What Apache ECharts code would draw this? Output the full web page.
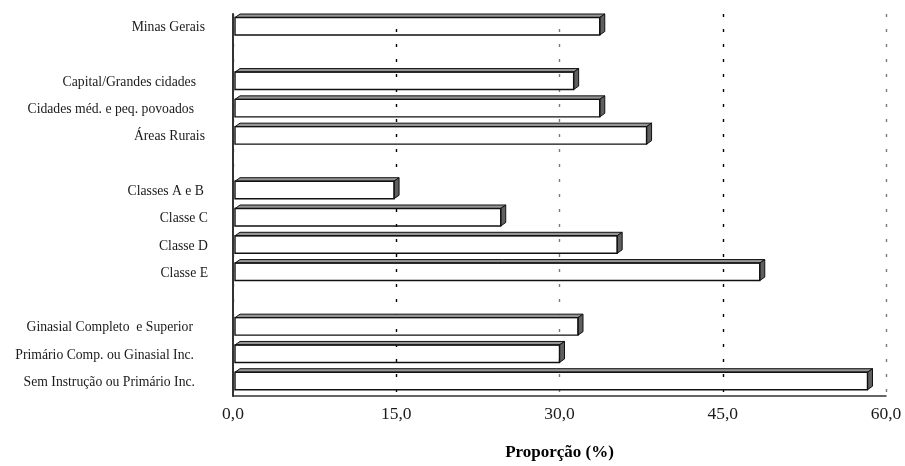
<!DOCTYPE html>
<html>
<head>
<meta charset="utf-8">
<script src="https://cdn.jsdelivr.net/npm/echarts@6/dist/echarts.min.js"></script>
<style>
html,body{margin:0;padding:0;background:#fff;}
#chart{width:905px;height:466px;}
</style>
</head>
<body>
<div id="chart"></div>
<script>
// ---- data ----
const categories = [
  'Minas Gerais',
  ' ',
  'Capital/Grandes cidades',
  'Cidades méd. e peq. povoados',
  'Áreas Rurais',
  '  ',
  'Classes A e B',
  'Classe C',
  'Classe D',
  'Classe E',
  '   ',
  'Ginasial Completo  e Superior',
  'Primário Comp. ou Ginasial Inc.',
  'Sem Instrução ou Primário Inc.'
];
const values = [33.7, null, 31.3, 33.7, 38.0, null, 14.8, 24.6, 35.3, 48.4, null, 31.7, 30.0, 58.3];
const xTicks = { min: 0, max: 60, interval: 15 };
const axisTitle = 'Proporção (%)';

// ---- layout / style ----
const labelPad = {
  'Minas Gerais': 3,
  'Capital/Grandes cidades': 12,
  'Cidades méd. e peq. povoados': 14,
  'Áreas Rurais': 3,
  'Classes A e B': 4,
  'Classe C': 0,
  'Classe D': 0,
  'Classe E': 0,
  'Ginasial Completo  e Superior': 15,
  'Primário Comp. ou Ginasial Inc.': 14,
  'Sem Instrução ou Primário Inc.': 13
};
const serif = '"Liberation Serif", "Times New Roman", serif';

const chart = echarts.init(document.getElementById('chart'), null, { renderer: 'canvas' });

const seriesData = values.map((v, i) => [v, i]).filter(d => d[0] !== null);

function renderItem(params, api) {
  const v = api.value(0);
  const idx = api.value(1);
  const s = api.coord([0, idx]);
  const e = api.coord([v, idx]);
  const band = api.size([0, 1])[1];
  const bandTop = s[1] - band / 2;
  const x0 = s[0] + 2;
  const x1 = e[0];
  const fy0 = bandTop + 3.5;
  const fy1 = fy0 + 17.5;
  const dx = 5, dy = 3.5;
  return {
    type: 'group',
    children: [
      {
        type: 'polygon',
        shape: { points: [[x0, fy0], [x0 + dx, fy0 - dy], [x1 + dx, fy0 - dy], [x1, fy0]] },
        style: { fill: '#959595', stroke: '#111', lineWidth: 1 }
      },
      {
        type: 'polygon',
        shape: { points: [[x1, fy0], [x1 + dx, fy0 - dy], [x1 + dx, fy1 - dy], [x1, fy1]] },
        style: { fill: '#5f5f5f', stroke: '#111', lineWidth: 1 }
      },
      {
        type: 'rect',
        shape: { x: x0, y: fy0, width: x1 - x0, height: fy1 - fy0 },
        style: { fill: 'rgba(255,255,255,0)', stroke: '#111', lineWidth: 1.4 }
      }
    ]
  };
}

const rich = {};
Object.keys(labelPad).forEach((k, i) => {
  rich['p' + i] = {
    fontFamily: serif, fontSize: 13.7, color: '#1a1a1a',
    padding: [0, labelPad[k], 0, 0]
  };
});
const padKeys = Object.keys(labelPad);

chart.setOption({
  backgroundColor: '#fff',
  animation: false,
  grid: { left: 233, right: 19, top: 14, bottom: 70, containLabel: false },
  xAxis: {
    type: 'value',
    min: xTicks.min, max: xTicks.max, interval: xTicks.interval,
    name: axisTitle,
    nameLocation: 'middle',
    nameGap: 48,
    nameTextStyle: { fontFamily: serif, fontSize: 17, fontWeight: 'bold', color: '#000' },
    axisLine: { show: true, lineStyle: { color: '#333', width: 1.5 } },
    axisTick: { show: false },
    axisLabel: {
      margin: 9,
      fontFamily: serif, fontSize: 17.5, color: '#1a1a1a',
      formatter: v => v.toFixed(1).replace('.', ',')
    },
    splitLine: {
      show: true,
      lineStyle: { color: ['#7a7a7a', '#000'], width: 1.4, type: [3, 12] }
    }
  },
  yAxis: {
    type: 'category',
    inverse: true,
    data: categories,
    axisLine: { show: true, lineStyle: { color: '#333', width: 2 } },
    axisTick: { show: false },
    splitLine: { show: false },
    axisLabel: {
      margin: 25,
      interval: 0,
      fontFamily: serif, fontSize: 13.7, color: '#1a1a1a',
      formatter: v => {
        const i = padKeys.indexOf(v);
        return i >= 0 ? '{p' + i + '|' + v + '}' : '';
      },
      rich: rich
    }
  },
  series: [{
    type: 'custom',
    renderItem: renderItem,
    encode: { x: 0, y: 1 },
    data: seriesData,
    z: 1
  }]
});
</script>
</body>
</html>
